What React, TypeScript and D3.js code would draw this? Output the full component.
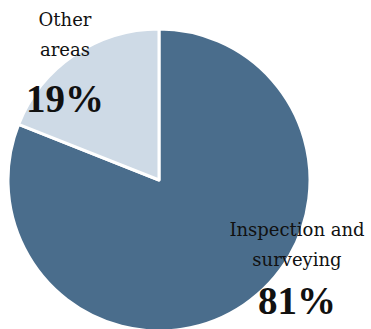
import React from "react";
import * as d3 from "d3";

const categories = ["Inspection and surveying", "Other areas"];
const values = [81, 19];
const labelLines = [["Inspection and", "surveying"], ["Other", "areas"]];
const pctLabels = ["81%", "19%"];
const colors = ["#4a6d8c", "#cedae6"];

export default function App() {
  const W = 371, H = 329;
  const cx = 159, cy = 180, r = 151;
  const pie = d3.pie<number>().sort(null).startAngle(0).endAngle(2 * Math.PI)(values);
  const arc = d3.arc<d3.PieArcDatum<number>>().innerRadius(0).outerRadius(r);
  const labelPos = [
    { x: 297, y: 236, py: 314 },
    { x: 65, y: 26, py: 112 },
  ];
  return (
    <svg width={W} height={H} style={{ position: "absolute", left: 0, top: 0 }}>
      <g transform={`translate(${cx},${cy})`}>
        {pie.map((d, i) => (
          <path key={categories[i]} d={arc(d) || ""} fill={colors[i]} stroke="#fff" strokeWidth={3} strokeLinejoin="round" />
        ))}
      </g>
      {labelPos.map((p, i) => (
        <g key={i} fill="#111" textAnchor="middle">
          <text x={p.x} y={p.y} fontSize={18} fontFamily="'DejaVu Serif', serif">{labelLines[i][0]}</text>
          <text x={p.x} y={p.y + 30} fontSize={18} fontFamily="'DejaVu Serif', serif">{labelLines[i][1]}</text>
          <text x={p.x} y={p.py} fontSize={39} fontWeight="bold" fontFamily="'Liberation Serif', serif">{pctLabels[i]}</text>
        </g>
      ))}
    </svg>
  );
}
